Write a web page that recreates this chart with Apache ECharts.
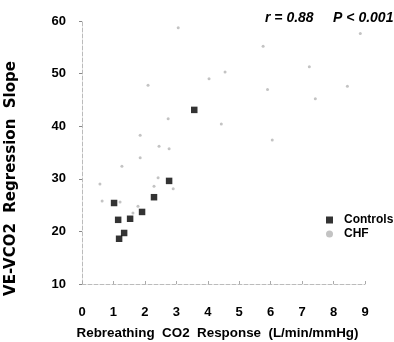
<!DOCTYPE html>
<html><head><meta charset="utf-8">
<script src="https://cdn.jsdelivr.net/npm/echarts@6/dist/echarts.min.js"></script>
<style>html,body{margin:0;padding:0;background:#fff}#c{width:394px;height:342px}</style>
</head><body><div id="c"></div>
<script>
const xTicks = [0,1,2,3,4,5,6,7,8,9];
const yTicks = [10,20,30,40,50,60];
const controlsX = [1.02,1.15,1.18,1.34,1.53,1.91,2.29,2.77,3.57];
const controlsY = [25.4,22.2,18.6,19.7,22.4,23.7,26.5,29.6,43.1];
const chfX = [3.06,4.55,4.04,5.76,5.9,8.85,7.23,8.44,7.42,2.10,2.74,1.85,2.45,2.77,1.85,1.27,2.42,2.29,0.57,2.90,4.43,6.05,1.78,1.62,1.21,0.64];
const chfY = [58.7,50.3,49.0,55.2,47.0,57.6,51.3,47.6,45.2,47.8,41.4,38.3,36.2,35.7,34.0,32.4,30.2,28.6,29.0,28.1,40.4,37.4,24.8,23.5,25.6,25.8];
const stats = 'r = 0.88     P < 0.001';

const font = 'Liberation Sans';
const chart = echarts.init(document.getElementById('c'));
chart.setOption({
  animation: false,
  backgroundColor: '#fff',
  grid: {left: 82, right: 29, top: 21, bottom: 58, outerBoundsMode: 'none', containLabel: false},
  title: {text: stats, left: 265, top: 11, padding: 0,
    textStyle: {fontFamily: font, fontSize: 14, fontWeight: 'bold', fontStyle: 'italic', color: '#000'}},
  legend: {orient: 'vertical', left: 321, top: 209, itemGap: 2, itemWidth: 7, itemHeight: 7,
    textStyle: {fontFamily: font, fontSize: 12, fontWeight: 'bold', color: '#000', padding: [0,0,0,6]},
    data: ['Controls', 'CHF']},
  xAxis: {type: 'value', min: 0, max: 9, interval: 1,
    name: 'Rebreathing  CO2  Response  (L/min/mmHg)', nameLocation: 'middle', nameGap: 43,
    nameTextStyle: {fontFamily: font, fontSize: 13.4, fontWeight: 'bold', color: '#000', padding: [0,12,0,0]},
    axisLine: {lineStyle: {color: '#bbb', type: 'dashed', width: 1}},
    axisTick: {show: true, length: 3, inside: true, lineStyle: {color: '#aaa'}},
    axisLabel: {fontFamily: font, fontSize: 13, fontWeight: 'bold', color: '#000', margin: 22,
      formatter: v => xTicks.includes(v) ? String(v) : ''},
    splitLine: {show: false}},
  yAxis: {type: 'value', min: 10, max: 60, interval: 10,
    name: 'VE-VCO2  Regression  Slope', nameLocation: 'middle', nameGap: 63, nameRotate: 90,
    nameTextStyle: {fontFamily: 'DejaVu Sans', fontSize: 15, fontWeight: 'bold', color: '#000', padding: [0,52,0,0]},
    axisLine: {show: true, lineStyle: {color: '#bbb', type: 'dashed', width: 1}},
    axisTick: {show: true, length: 3, lineStyle: {color: '#888'}},
    axisLabel: {fontFamily: font, fontSize: 13, fontWeight: 'bold', color: '#000', margin: 16,
      formatter: v => yTicks.includes(v) ? String(v) : ''},
    splitLine: {show: false}},
  series: [
    {name: 'Controls', type: 'scatter', symbol: 'rect', symbolSize: 6.5,
      itemStyle: {color: '#000'}, data: controlsX.map((x,i) => [x, controlsY[i]])},
    {name: 'CHF', type: 'scatter', symbol: 'circle', symbolSize: 3,
      itemStyle: {color: '#b4b4b4'}, data: chfX.map((x,i) => [x, chfY[i]])}
  ]
});
</script></body></html>
